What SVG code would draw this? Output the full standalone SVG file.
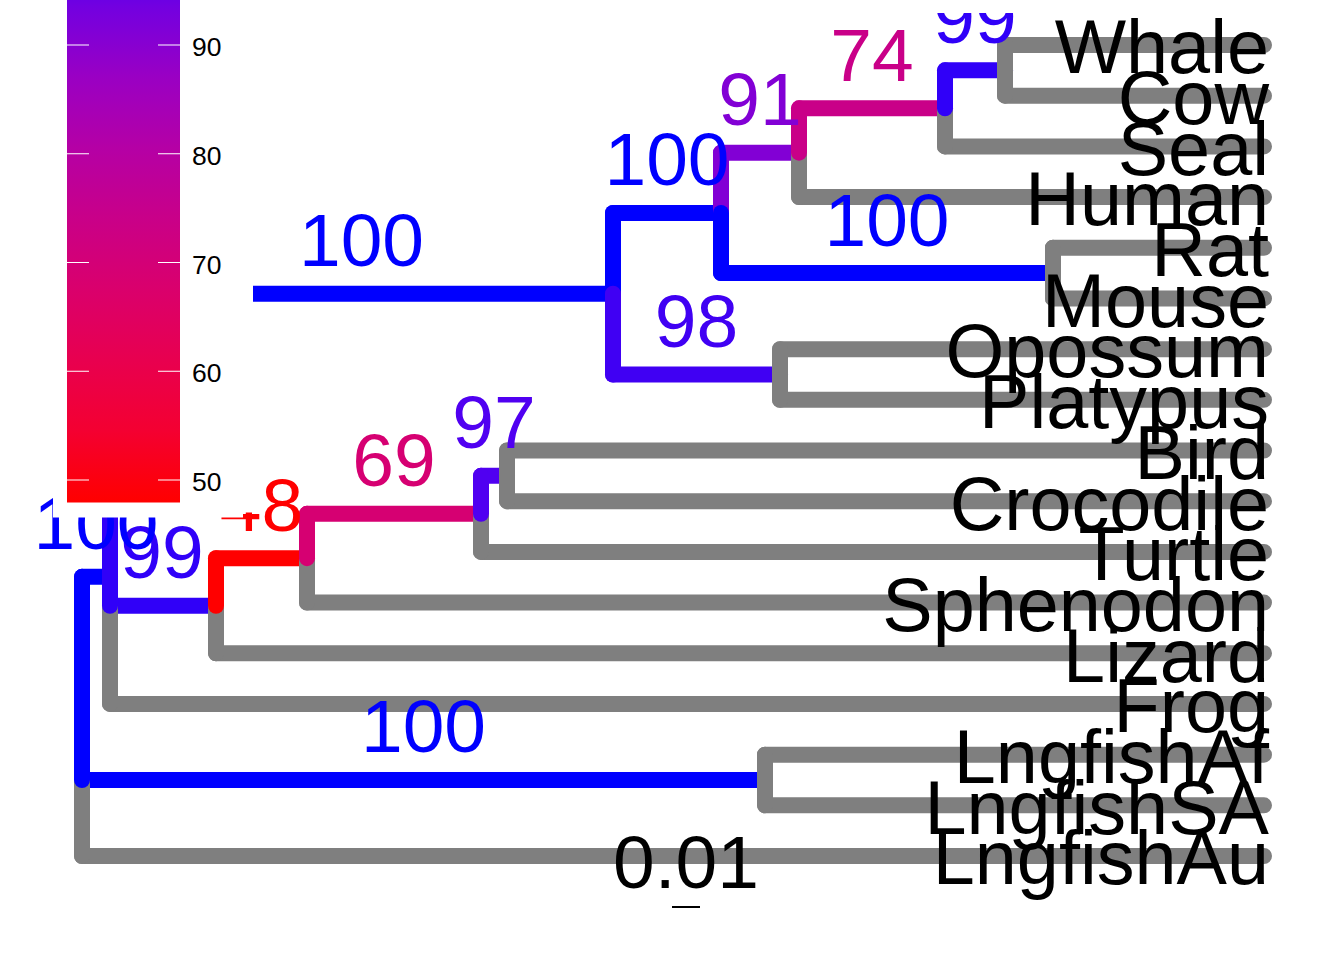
<svg xmlns="http://www.w3.org/2000/svg" width="1344" height="960" viewBox="0 0 1344 960">
<style>
.e{fill:none;stroke-width:16;stroke-linecap:round}
.g{stroke:#7F7F7F}
.c100{stroke:#0000FF}.c99{stroke:#3000F8}.c98{stroke:#4000F3}.c97{stroke:#5000F1}.c91{stroke:#8200D5}.c74{stroke:#C90088}.c69{stroke:#D60072}.c48{stroke:#FF0000}
.t{font-family:"Liberation Sans",Arial,sans-serif;font-size:75px}
.tip{text-anchor:end;fill:#000;font-size:75.6px}
.nl{text-anchor:middle}
.f100{fill:#0000FF}.f99{fill:#3000F8}.f98{fill:#4000F3}.f97{fill:#5000F1}.f91{fill:#8200D5}.f74{fill:#C90088}.f69{fill:#D60072}.f48{fill:#FF0000}
.lg{font-family:"Liberation Sans",Arial,sans-serif;font-size:26.5px;fill:#000}
.tk{stroke:#FFFFFF;stroke-width:1.2}
</style>
<defs>
<clipPath id="panel"><rect x="0" y="13" width="1344" height="947"/></clipPath>
<linearGradient id="grad" gradientUnits="userSpaceOnUse" x1="0" y1="501.75" x2="0" y2="-63.75">
<stop offset="0" stop-color="#FF0000"/>
<stop offset="0.125" stop-color="#F40031"/>
<stop offset="0.25" stop-color="#E8004F"/>
<stop offset="0.375" stop-color="#DA006C"/>
<stop offset="0.5" stop-color="#C90088"/>
<stop offset="0.625" stop-color="#B500A5"/>
<stop offset="0.75" stop-color="#9A00C3"/>
<stop offset="0.875" stop-color="#7300E0"/>
<stop offset="0.9375" stop-color="#5400F0"/>
<stop offset="0.98" stop-color="#2F00FA"/>
<stop offset="1" stop-color="#0000FF"/>
</linearGradient>
</defs>
<rect x="0" y="0" width="1344" height="960" fill="#FFFFFF"/>
<g id="tree" clip-path="url(#panel)">
<g id="connectors">
<path class="e g" d="M1005 45H1264M1005 95.69H1264M945 146.38H1264M799 197.06H1264M1053 247.75H1264M1053 298.44H1264M780 349.13H1264M780 399.81H1264M507 450.5H1264M507 501.19H1264M481 551.88H1264M307 602.56H1264M216 653.25H1264M110 703.94H1264M765 754.63H1264M765 805.31H1264M82 856H1264"/>
<path class="e c99" d="M945 70.34H1005"/>
<path class="e c74" d="M799 108.36H945"/>
<path class="e c91" d="M721 152.71H799"/>
<path class="e c100" d="M721 273.1H1053"/>
<path class="e c100" d="M613 212.9H721"/>
<path class="e c98" d="M613 374.47H780"/>
<path class="e c100" d="M110 293.69H613"/>
<path class="e c99" d="M110 605.73H216"/>
<path class="e c48" d="M216 558.21H307"/>
<path class="e c69" d="M307 513.86H481"/>
<path class="e c97" d="M481 475.85H507"/>
<path class="e c100" d="M82 576.83H110"/>
<path class="e c100" d="M82 779.97H765"/>
<path class="e g" d="M1005 70.34V45M1005 70.34V95.69M945 108.36V146.38M799 152.71V197.06M1053 273.1V247.75M1053 273.1V298.44M780 374.47V349.13M780 374.47V399.81M507 475.85V450.5M507 475.85V501.19M481 513.86V551.88M307 558.21V602.56M216 605.73V653.25M110 576.83V703.94M765 779.97V754.63M765 779.97V805.31M82 737.6V856"/>
<path class="e c99" d="M945 108.36V70.34"/>
<path class="e c74" d="M799 152.71V108.36"/>
<path class="e c91" d="M721 212.9V152.71"/>
<path class="e c100" d="M721 212.9V273.1"/>
<path class="e c100" d="M613 293.69V212.9"/>
<path class="e c98" d="M613 293.69V374.47"/>
<path class="e c100" d="M110 449.71V293.69"/>
<path class="e c99" d="M110 576.83V449.71"/>
<path class="e c99" d="M110 449.71V605.73"/>
<path class="e c48" d="M216 605.73V558.21"/>
<path class="e c69" d="M307 558.21V513.86"/>
<path class="e c97" d="M481 513.86V475.85"/>
<path class="e c100" d="M82 737.6V576.83"/>
<path class="e c100" d="M82 737.6V779.97"/>
</g>
<g id="tips" class="t tip">
<text id="Whale" x="1269" y="73.3">Whale</text>
<text id="Cow" x="1269" y="124">Cow</text>
<text id="Seal" x="1269" y="174.7">Seal</text>
<text id="Human" x="1269" y="225.4">Human</text>
<text id="Rat" x="1269" y="276">Rat</text>
<text id="Mouse" x="1269" y="326.7">Mouse</text>
<text id="Opossum" x="1269" y="377.4">Opossum</text>
<text id="Platypus" x="1269" y="428.1">Platypus</text>
<text id="Bird" x="1269" y="478.8">Bird</text>
<text id="Crocodile" x="1269" y="529.5">Crocodile</text>
<text id="Turtle" x="1269" y="580.2">Turtle</text>
<text id="Sphenodon" x="1269" y="630.9">Sphenodon</text>
<text id="Lizard" x="1269" y="681.5">Lizard</text>
<text id="Frog" x="1269" y="732.2">Frog</text>
<text id="LngfishAf" x="1269" y="782.9">LngfishAf</text>
<text id="LngfishSA" x="1269" y="833.6">LngfishSA</text>
<text id="LngfishAu" x="1269" y="884.3">LngfishAu</text>
</g>
<g id="nodelabels" class="t nl">
<text id="n_wc" class="f99" x="975" y="42.84">99</text>
<text id="n_74" class="f74" x="872" y="80.86">74</text>
<text id="n_91" class="f91" x="760" y="125.2">91</text>
<text id="n_rm" class="f100" x="887" y="245.6">100</text>
<text id="n_e" class="f100" x="667" y="185.4">100</text>
<text id="n_p" class="f98" x="696.5" y="346.97">98</text>
<text id="n_m" class="f100" x="361.5" y="266.2">100</text>
<text id="n_bc" class="f97" x="494" y="448.35">97</text>
<text id="n_69" class="f69" x="394" y="486.36">69</text>
<text id="n_48" class="f48" x="261.5" y="530.7">48</text>
<text id="n_r" class="f99" x="162" y="578.23">99</text>
<text id="n_t" class="f100" x="96" y="549.33">100</text>
<text id="n_lf" class="f100" x="423.5" y="752.47">100</text>
</g>
</g>
<g id="scalebar">
<line x1="672" y1="907" x2="700" y2="907" stroke="#000" stroke-width="2"/>
<text class="t" x="686" y="888" text-anchor="middle" fill="#000">0.01</text>
</g>
<g id="legend">
<polygon points="53,-10 253,-10 253,512.5 243,512.5 243,517.5 53,517.5" fill="#FFFFFF"/>
<rect x="67" y="-64" width="113" height="566.5" fill="url(#grad)"/>
<path class="tk" d="M67 45H89M158 45H180M67 153.75H89M158 153.75H180M67 262.5H89M158 262.5H180M67 371.25H89M158 371.25H180M67 480H89M158 480H180"/>
<text class="lg" x="192" y="56">90</text>
<text class="lg" x="192" y="164.75">80</text>
<text class="lg" x="192" y="273.5">70</text>
<text class="lg" x="192" y="382.25">60</text>
<text class="lg" x="192" y="491">50</text>
</g>
</svg>
